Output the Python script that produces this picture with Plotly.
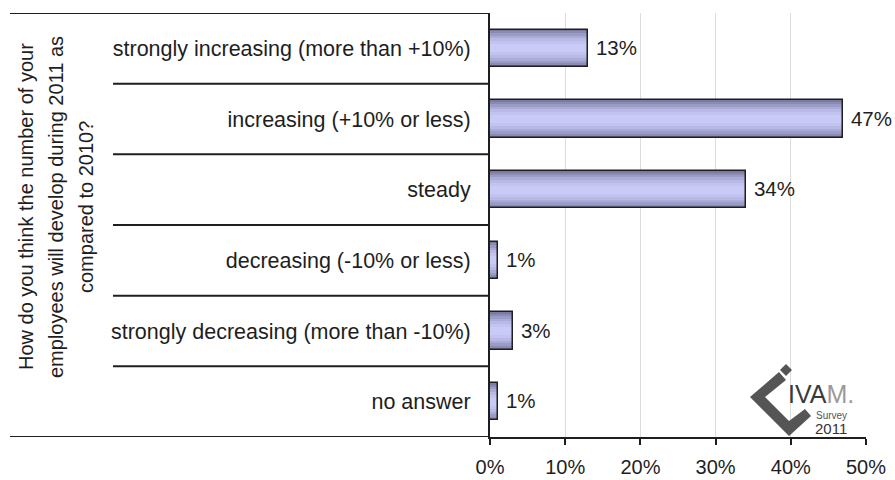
import plotly.graph_objects as go

# Survey answers (top to bottom) and share of respondents in percent
categories = [
    "strongly increasing (more than +10%)",
    "increasing (+10% or less)",
    "steady",
    "decreasing (-10% or less)",
    "strongly decreasing (more than -10%)",
    "no answer",
]
shares = [13, 47, 34, 1, 3, 1]
value_labels = ["13%", "47%", "34%", "1%", "3%", "1%"]
x_ticks = [0, 10, 20, 30, 40, 50]
x_tick_labels = ["0%", "10%", "20%", "30%", "40%", "50%"]
title_lines = [
    "How do you think the number of your",
    "employees will develop during 2011 as",
    "compared to 2010?",
]

W, H = 895, 480
L, R, T, B = 490, 29, 13, 43
FONT = "Arial, Liberation Sans, sans-serif"
INK = "#1e1e1e"


def px(x):
    """pixel column -> paper x"""
    return (x - L) / (W - L - R)


def py(y):
    """pixel row -> paper y"""
    return (H - B - y) / (H - T - B)


fig = go.Figure()

# Vertically shaded bars: stacked overlay layers, darkest/widest first
shade_layers = [
    (0.53, "#7a7aa3"),
    (0.48, "#8a8ab5"),
    (0.42, "#9b9bc8"),
    (0.35, "#ababd8"),
    (0.28, "#b9b9e6"),
    (0.20, "#c3c3f0"),
    (0.11, "#cacaf8"),
]
for width, color in shade_layers:
    fig.add_trace(go.Bar(
        y=categories, x=shares, orientation="h", width=width,
        marker=dict(color=color, line=dict(width=0)),
        hoverinfo="skip", showlegend=False,
    ))

# Outline and value labels on top
fig.add_trace(go.Bar(
    y=categories, x=shares, orientation="h", width=0.53,
    marker=dict(color="rgba(0,0,0,0)", line=dict(color=INK, width=1.5)),
    text=["\u00a0" + t for t in value_labels], textposition="outside",
    textfont=dict(family=FONT, size=20.5, color=INK),
    cliponaxis=False, showlegend=False,
))

# Row separators: outer frame lines run to the far left edge,
# inner ones stop where the category labels begin
shapes = []
n = len(categories)
for i in range(n + 1):
    left = 10 if i in (0, n) else 113
    shapes.append(dict(
        type="line", xref="paper", yref="y",
        x0=px(left), x1=0, y0=i - 0.5, y1=i - 0.5,
        line=dict(color=INK, width=2),
    ))

# IVAM logo mark
chevron = [(750, 397), (779, 372), (786, 380), (765, 397),
           (789, 421), (805, 409), (811, 416), (789, 436)]
path = "M " + " L ".join(f"{px(x)},{py(y)}" for x, y in chevron) + " Z"
shapes.append(dict(type="path", xref="paper", yref="paper", path=path,
                   fillcolor="#555555", line=dict(width=0), layer="above"))
sq = [(786, 364), (792, 370), (786, 376), (780, 370)]
path = "M " + " L ".join(f"{px(x)},{py(y)}" for x, y in sq) + " Z"
shapes.append(dict(type="path", xref="paper", yref="paper", path=path,
                   fillcolor="#555555", line=dict(width=0), layer="above"))

annotations = []
for k, line in enumerate(title_lines):
    annotations.append(dict(
        text=line, xref="paper", yref="paper",
        x=px(26 + 30 * k), y=py(207), textangle=-90,
        showarrow=False, xanchor="center", yanchor="middle",
        font=dict(family=FONT, size=20, color=INK),
    ))

annotations += [
    dict(text="<span style='color:#3a3a3a'>IVA</span><span style='color:#9a9a9a'>M.</span>",
         xref="paper", yref="paper", x=px(786), y=py(394), xanchor="left",
         yanchor="middle", showarrow=False,
         font=dict(family=FONT, size=25, color="#3a3a3a")),
    dict(text="Survey", xref="paper", yref="paper", x=px(831), y=py(415),
         xanchor="center", yanchor="middle", showarrow=False,
         font=dict(family=FONT, size=10, color="#555555")),
    dict(text="2011", xref="paper", yref="paper", x=px(831), y=py(428),
         xanchor="center", yanchor="middle", showarrow=False,
         font=dict(family=FONT, size=15, color="#333333")),
]

fig.update_layout(
    width=W, height=H,
    margin=dict(l=L, r=R, t=T, b=B, pad=0, autoexpand=False),
    paper_bgcolor="white", plot_bgcolor="white",
    barmode="overlay", bargap=0,
    shapes=shapes, annotations=annotations,
    font=dict(family=FONT, size=20, color=INK),
    xaxis=dict(
        automargin=False,
        range=[0, 50], tickvals=x_ticks, ticktext=x_tick_labels,
        showgrid=True, gridcolor="#dcdcdc", gridwidth=1,
        zeroline=False, showline=True, linecolor=INK, linewidth=2,
        ticks="outside", ticklen=6, tickwidth=2, tickcolor=INK,
        ticklabelstandoff=5,
        tickfont=dict(family=FONT, size=20, color=INK),
    ),
    yaxis=dict(
        automargin=False,
        categoryorder="array", categoryarray=categories,
        range=[n - 0.5, -0.5],
        showgrid=False, zeroline=False, showline=True,
        linecolor=INK, linewidth=2, ticks="",
        ticklabelstandoff=13,
        tickfont=dict(family=FONT, size=21.5, color=INK),
    ),
)

fig.write_html("out.html")
